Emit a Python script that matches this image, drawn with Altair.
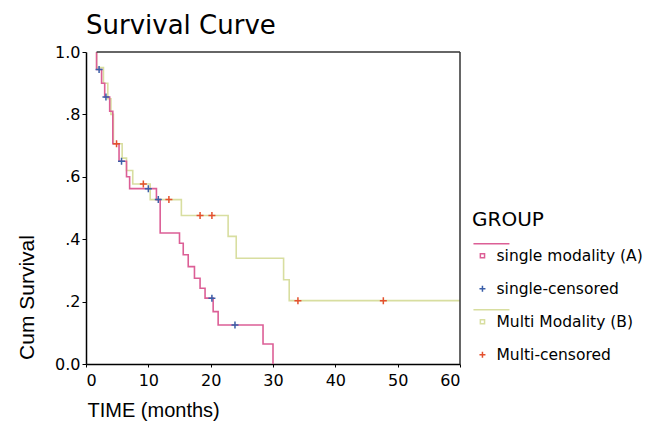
import altair as alt
import pandas as pd

# ---- data (time in months, cumulative survival) ----
single_time = [1.7, 1.7, 2.5, 3.0, 3.8, 4.3, 5.3, 6.5, 7.0, 11.3, 11.9, 15.0, 15.6,
               16.4, 17.4, 18.3, 19.1, 20.4, 21.2, 28.4, 30.0]
single_surv = [1.0, 0.944, 0.90, 0.856, 0.81, 0.706, 0.65, 0.60, 0.562, 0.527, 0.42,
               0.387, 0.35, 0.312, 0.275, 0.243, 0.211, 0.168, 0.125, 0.064, 0.0]

multi_time = [1.7, 1.7, 2.8, 3.5, 4.0, 4.4, 5.8, 6.5, 7.5, 10.3, 15.3, 22.8, 24.1,
              31.7, 32.6, 60.0]
multi_surv = [1.0, 0.95, 0.90, 0.85, 0.80, 0.706, 0.66, 0.62, 0.577, 0.527, 0.476,
              0.409, 0.339, 0.27, 0.203, 0.203]

single_cens_time = [2.1, 3.2, 5.7, 10.0, 11.6, 20.2, 23.9]
single_cens_surv = [0.944, 0.856, 0.65, 0.562, 0.527, 0.211, 0.125]
multi_cens_time = [4.9, 9.2, 13.3, 18.3, 20.2, 34.0, 47.7]
multi_cens_surv = [0.706, 0.577, 0.527, 0.476, 0.476, 0.203, 0.203]

legend_labels = ["single modality (A)", "single-censored", "Multi Modality (B)", "Multi-censored"]
y_ticks = [0.0, 0.2, 0.4, 0.6, 0.8, 1.0]
x_ticks = [0, 10, 20, 30, 40, 50, 60]

# ---- styling ----
PINK = "#dc5f96"
GREEN = "#d8dea0"
BLUE = "#3a5ea8"
RED = "#e4502e"
SQUARE_PATH = "M-0.7,-0.7H0.7V0.7H-0.7Z M-3,-4H9 M0,4"
PLUS_PATH = "M-1,0H1M0,-1V1 M0,-4 M0,4"
legend_colors = [PINK, BLUE, GREEN, RED]
legend_shapes = [SQUARE_PATH, PLUS_PATH, SQUARE_PATH, PLUS_PATH]

single_df = pd.DataFrame({"time": single_time, "surv": single_surv,
                          "idx": list(range(len(single_time)))})
multi_df = pd.DataFrame({"time": multi_time, "surv": multi_surv,
                         "idx": list(range(len(multi_time)))})
cens_df = pd.DataFrame({
    "time": single_cens_time + multi_cens_time,
    "surv": single_cens_surv + multi_cens_surv,
    "label": [legend_labels[1]] * len(single_cens_time) + [legend_labels[3]] * len(multi_cens_time),
})

x_scale = alt.Scale(domain=[0, 60], nice=False)
y_scale = alt.Scale(domain=[0, 1], nice=False)

x_axis = alt.Axis(values=x_ticks, title="TIME (months)", labelFont="DejaVu Sans",
                  labelFontSize=16, tickSize=3, labelPadding=5,
                  titleFont="Liberation Sans", titleFontSize=20, titleFontWeight="normal",
                  titleAlign="left", titleBaseline="middle", titleX=1, titleY=46)
y_axis = alt.Axis(values=y_ticks, title="Cum Survival",
                  labelExpr="datum.value == 0 ? '0.0' : datum.value == 1 ? '1.0' : '.' + round(datum.value * 10)",
                  labelFont="DejaVu Sans", labelFontSize=16, tickSize=4, labelPadding=2,
                  titleFont="Liberation Sans", titleFontSize=21, titleFontWeight="normal",
                  titleAlign="center", titleBaseline="middle", titleX=-59, titleY=245,
                  titleAngle=-90)

multi_line = alt.Chart(multi_df).mark_line(interpolate="step-after", color=GREEN,
                                            strokeWidth=1.6).encode(
    x=alt.X("time:Q", scale=x_scale, axis=x_axis),
    y=alt.Y("surv:Q", scale=y_scale, axis=y_axis),
    order="idx:Q",
)
single_line = alt.Chart(single_df).mark_line(interpolate="step-after", color=PINK,
                                              strokeWidth=1.6).encode(
    x="time:Q", y="surv:Q", order="idx:Q",
)

frame_top = alt.Chart().mark_rule(color="#333333", strokeWidth=1.5).encode(
    x=alt.datum(single_time[0]), x2=alt.datum(60), y=alt.datum(1.0))
frame_right = alt.Chart().mark_rule(color="#333333", strokeWidth=1.5).encode(
    x=alt.datum(60), y=alt.datum(0.0), y2=alt.datum(1.0))

censors = alt.Chart(cens_df).mark_point(filled=False, size=49, strokeWidth=1.5,
                                        opacity=1).encode(
    x="time:Q", y="surv:Q",
    color=alt.Color("label:N", scale=alt.Scale(domain=legend_labels, range=legend_colors),
                    title="GROUP"),
    shape=alt.Shape("label:N", scale=alt.Scale(domain=legend_labels, range=legend_shapes),
                    title="GROUP"),
)

chart = alt.layer(multi_line, single_line, frame_top, frame_right, censors).properties(
    width=374, height=312,
    autosize=alt.AutoSizeParams(type="none"),
    padding={"left": 78, "top": 44, "right": 187, "bottom": 57},
    title=alt.Title("Survival Curve", anchor="start", font="DejaVu Sans", fontSize=26,
                    fontWeight="normal", color="black", frame="group", offset=5),
).configure_view(stroke=None).configure_axis(
    grid=False, domainColor="black", domainWidth=1.5, tickColor="black",
    labelColor="black", titleColor="black",
).configure_legend(
    orient="none", legendX=386, legendY=158,
    titleFont="DejaVu Sans", titleFontSize=20, titleFontWeight="normal", titleColor="black",
    titlePadding=18, labelFont="DejaVu Sans", labelFontSize=15.5, labelColor="black",
    rowPadding=2, symbolSize=36, symbolStrokeWidth=1.5, symbolOffset=2.7, labelOffset=6.3,
    labelLimit=300,
)

chart.save("out.html", embed_options={"renderer": "svg", "actions": False})
